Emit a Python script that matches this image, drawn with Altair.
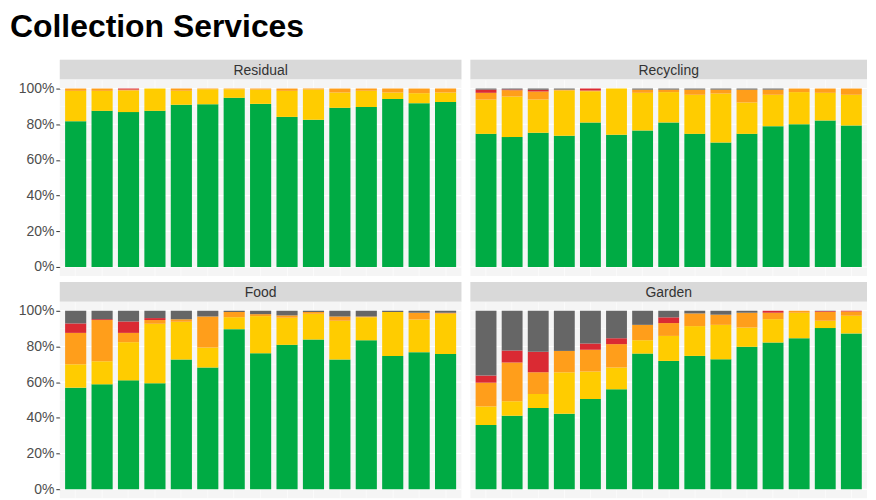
import altair as alt
import pandas as pd

periods = [f"P{i:02d}" for i in range(1, 16)]
series = ["Green", "Yellow", "Orange", "Red", "Grey"]
colors = ["#00AB44", "#FFCC00", "#FF9E1B", "#DA2A33", "#666666"]
panels = ["Residual", "Recycling", "Food", "Garden"]

# segment shares (%) per period, bottom to top
residual = {
    "Green":  [81.7, 87.5, 86.8, 87.5, 90.9, 91.2, 94.8, 91.4, 84.1, 82.5, 89.2, 89.7, 94.2, 91.8, 92.5],
    "Yellow": [17.0, 11.2, 12.1, 12.5, 7.8, 8.4, 4.8, 8.0, 14.6, 16.9, 8.6, 9.0, 3.6, 5.6, 5.3],
    "Orange": [1.3, 1.3, 0.5, 0.0, 1.3, 0.4, 0.4, 0.6, 1.3, 0.6, 2.2, 1.3, 2.2, 2.6, 2.2],
    "Red":    [0, 0, 0.6, 0, 0, 0, 0, 0, 0, 0, 0, 0, 0, 0, 0],
    "Grey":   [0, 0, 0, 0, 0, 0, 0, 0, 0, 0, 0, 0, 0, 0, 0],
}
recycling = {
    "Green":  [74.6, 72.8, 75.2, 73.5, 81.0, 74.1, 76.5, 81.0, 74.6, 69.8, 74.6, 78.9, 80.0, 82.1, 79.3],
    "Yellow": [19.2, 22.7, 18.6, 25.4, 17.5, 25.9, 21.1, 17.0, 21.9, 27.4, 17.6, 17.6, 18.0, 15.5, 17.2],
    "Orange": [3.8, 3.6, 4.5, 0.5, 0.4, 0.0, 1.8, 1.4, 2.9, 2.2, 7.2, 2.9, 2.0, 2.4, 3.5],
    "Red":    [1.8, 0.4, 1.0, 0, 1.1, 0, 0, 0, 0, 0, 0, 0, 0, 0, 0],
    "Grey":   [0.6, 0.5, 0.7, 0.6, 0, 0, 0.6, 0.6, 0.6, 0.6, 0.6, 0.6, 0, 0, 0],
}
food = {
    "Green":  [56.9, 58.8, 61.0, 59.4, 72.7, 68.2, 89.7, 76.2, 80.9, 83.9, 72.7, 83.5, 74.7, 76.8, 75.8],
    "Yellow": [13.1, 12.9, 21.4, 33.3, 21.1, 11.2, 6.7, 20.8, 15.2, 14.4, 21.7, 12.8, 24.6, 18.3, 22.5],
    "Orange": [17.6, 23.1, 5.2, 2.1, 1.5, 17.4, 2.9, 1.1, 1.3, 1.0, 2.4, 0.5, 0.0, 3.8, 0.6],
    "Red":    [5.3, 0.5, 6.4, 1.1, 0, 0, 0, 0, 0, 0, 0, 0, 0, 0, 0],
    "Grey":   [7.1, 4.7, 6.0, 4.1, 4.7, 3.2, 0.7, 1.9, 2.6, 0.7, 3.2, 3.2, 0.7, 1.1, 1.1],
}
garden = {
    "Green":  [36.0, 41.2, 45.5, 42.3, 50.6, 56.0, 76.0, 71.9, 74.7, 72.8, 79.8, 82.2, 84.6, 90.3, 87.3],
    "Yellow": [10.4, 8.1, 7.9, 23.2, 15.3, 12.2, 7.5, 14.0, 16.7, 19.3, 10.8, 13.1, 14.3, 4.1, 9.9],
    "Orange": [13.3, 21.7, 12.1, 12.0, 12.2, 13.1, 8.6, 7.2, 7.1, 5.7, 8.3, 3.6, 1.1, 5.0, 2.4],
    "Red":    [4.0, 6.7, 11.5, 0, 3.5, 3.3, 0, 3.2, 0, 0, 0, 1.1, 0, 0.4, 0.4],
    "Grey":   [36.3, 22.3, 23.0, 22.5, 18.4, 15.4, 7.9, 3.7, 1.5, 2.2, 1.1, 0, 0, 0.2, 0],
}
panel_data = {"Residual": residual, "Recycling": recycling, "Food": food, "Garden": garden}

major_ticks = [0, 0.2, 0.4, 0.6, 0.8, 1.0]
minor_ticks = [0.1, 0.3, 0.5, 0.7, 0.9]

FONT = "Liberation Sans"
PANEL_H = 197
STRIP_H = 20


def make_df(d):
    rows = []
    for si, s in enumerate(series):
        for pi, p in enumerate(periods):
            rows.append({"period": p, "series": s, "order": si, "share": d[s][pi] / 100.0})
    return pd.DataFrame(rows)


def panel(name, width, left):
    df = make_df(panel_data[name])
    yscale = alt.Scale(domain=[-0.05, 1.05], nice=False, zero=False)
    xscale = alt.Scale(domain=periods, paddingInner=0.2, paddingOuter=0.2)
    if left:
        yaxis = alt.Axis(values=major_ticks, format=".0%", title=None, grid=False,
                         labelFontSize=14, labelColor="#4D4D4D", labelFont=FONT,
                         tickColor="#333333", tickSize=4, labelPadding=2,
                         labelOverlap=False, labelFlush=False,
                         domain=False, minExtent=52, maxExtent=52)
    else:
        yaxis = alt.Axis(values=major_ticks, title=None, grid=False, labels=False,
                         ticks=False, domain=False, minExtent=0, maxExtent=0)
    xaxis = alt.Axis(title=None, labels=False, ticks=False, domain=False, grid=True,
                     gridColor="white", gridWidth=0.6, bandPosition=0.5)

    major = alt.Chart(pd.DataFrame({"v": major_ticks})).mark_rule(
        color="white", strokeWidth=1.1).encode(y=alt.Y("v:Q", scale=yscale, axis=yaxis))
    minor = alt.Chart(pd.DataFrame({"v": minor_ticks})).mark_rule(
        color="white", strokeWidth=0.5).encode(y=alt.Y("v:Q", scale=yscale, axis=yaxis))
    bars = alt.Chart(df).mark_bar(strokeWidth=0).encode(
        x=alt.X("period:N", scale=xscale, axis=xaxis, sort=periods),
        y=alt.Y("share:Q", stack="zero", scale=yscale, axis=yaxis),
        color=alt.Color("series:N", scale=alt.Scale(domain=series, range=colors), legend=None),
        order=alt.Order("order:Q"),
    )
    plot = alt.layer(major, minor, bars).properties(width=width, height=PANEL_H)

    sdf = pd.DataFrame({"t": [name]})
    strip_bg = alt.Chart(sdf).mark_rect(color="#D9D9D9").encode(
        x=alt.value(0), x2=alt.value(width), y=alt.value(0), y2=alt.value(STRIP_H))
    strip_txt = alt.Chart(sdf).mark_text(font=FONT, fontSize=14, color="#333333",
                                         baseline="middle", align="center").encode(
        x=alt.value(width / 2), y=alt.value(STRIP_H / 2 + 1), text="t:N")
    strip = alt.layer(strip_bg, strip_txt).properties(width=width, height=STRIP_H)
    return alt.vconcat(strip, plot, spacing=0)


W1, W2 = 403, 398
chart = alt.vconcat(
    alt.hconcat(panel("Residual", W1, True), panel("Recycling", W2, False), spacing=7),
    alt.hconcat(panel("Food", W1, True), panel("Garden", W2, False), spacing=7),
    spacing=6,
).properties(
    padding={"left": 0, "right": 0, "top": 2, "bottom": 0},
    title=alt.TitleParams("Collection Services", anchor="start", font=FONT, fontSize=32,
                          fontWeight="bold", color="#000000", offset=16, dx=2,
                          frame="bounds"),
).configure_view(
    fill="#F5F5F5", stroke=None
).configure_concat(spacing=0)

chart.save("out.html", embed_options={"renderer": "svg", "actions": False})
